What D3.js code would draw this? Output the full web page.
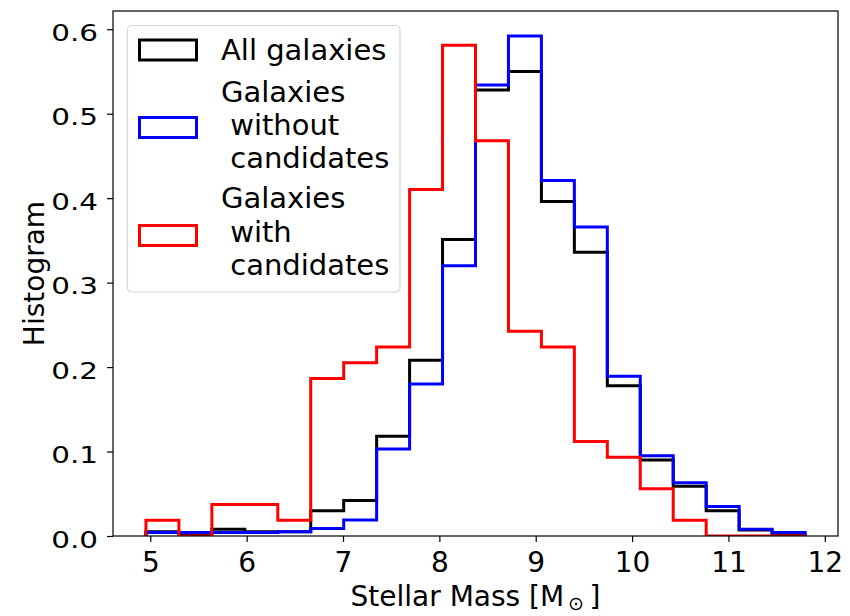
<!DOCTYPE html>
<html>
<head>
<meta charset="utf-8">
<script src="https://cdn.jsdelivr.net/npm/d3@7"></script>
<style>
  body { margin: 0; background: #fff; }
  svg { display: block; }
  text { font-family: "DejaVu Sans", sans-serif; fill: #000; }
</style>
</head>
<body>
<svg id="chart" width="850" height="616"></svg>
<script>
// Stellar mass histogram (density-normalised step histograms)
const massRange = [4.955, 11.795];   // first and last bin edge
const binCount = 20;

const allGalaxies = [0.005, 0.003, 0.008, 0.005, 0.005, 0.030, 0.042, 0.118, 0.208, 0.351,
                     0.528, 0.550, 0.396, 0.336, 0.178, 0.090, 0.059, 0.030, 0.007, 0.003];
const withoutCandidates = [0.004, 0.004, 0.004, 0.004, 0.005, 0.009, 0.019, 0.103, 0.180, 0.320,
                           0.534, 0.592, 0.421, 0.366, 0.189, 0.095, 0.063, 0.035, 0.008, 0.004];
const withCandidates = [0.0187, 0, 0.0373, 0.0373, 0.0187, 0.1865, 0.2052, 0.2238, 0.4104, 0.5810,
                        0.4680, 0.2425, 0.2238, 0.1119, 0.0933, 0.0560, 0.0187, 0, 0, 0];

const xTicks = [5, 6, 7, 8, 9, 10, 11, 12];
const yTicks = [0.0, 0.1, 0.2, 0.3, 0.4, 0.5, 0.6];

const seriesLabels = [["All galaxies"], ["Galaxies", " without", " candidates"], ["Galaxies", " with", " candidates"]];
const seriesColors = ["#000000", "#0000ff", "#ff0000"];
const seriesValues = [allGalaxies, withoutCandidates, withCandidates];

const plot = { left: 113, right: 838, top: 11, bottom: 536 };

const binWidth = (massRange[1] - massRange[0]) / binCount;
const edges = d3.range(binCount + 1).map(i => massRange[0] + i * binWidth);
const pad = 0.05 * (massRange[1] - massRange[0]);

const x = d3.scaleLinear().domain([massRange[0] - pad, massRange[1] + pad]).range([plot.left, plot.right]);
const yMax = d3.max(seriesValues.flat()) * 1.05;
const y = d3.scaleLinear().domain([0, yMax]).range([plot.bottom, plot.top]);

const svg = d3.select("#chart");

svg.append("defs").append("clipPath").attr("id", "plotClip")
  .append("rect")
  .attr("x", plot.left).attr("y", plot.top)
  .attr("width", plot.right - plot.left).attr("height", plot.bottom - plot.top);

// step outline: up the first edge, across each bin, down the last edge
function stepPoints(values) {
  const pts = [[edges[0], 0]];
  values.forEach((v, i) => { pts.push([edges[i], v]); pts.push([edges[i + 1], v]); });
  pts.push([edges[binCount], 0]);
  return pts;
}
const line = d3.line().x(d => x(d[0])).y(d => y(d[1]));

const marks = svg.append("g").attr("clip-path", "url(#plotClip)");
seriesValues.forEach((vals, i) => {
  marks.append("path")
    .attr("d", line(stepPoints(vals)))
    .attr("fill", "none")
    .attr("stroke", seriesColors[i])
    .attr("stroke-width", 3)
    .attr("stroke-linejoin", "miter");
});

// axes
const xAxis = svg.append("g")
  .attr("transform", `translate(0,${plot.bottom})`)
  .call(d3.axisBottom(x).tickValues(xTicks).tickFormat(d3.format("d")).tickSize(6).tickSizeOuter(0));
xAxis.select(".domain").remove();
xAxis.selectAll(".tick line").attr("stroke", "#000").attr("stroke-width", 1.2);
xAxis.selectAll(".tick text")
  .attr("y", 36).attr("dy", null)
  .style("font-size", "28px")
  .style("font-family", "'DejaVu Sans', sans-serif");

const yAxis = svg.append("g")
  .attr("transform", `translate(${plot.left},0)`)
  .call(d3.axisLeft(y).tickValues(yTicks).tickFormat(d3.format(".1f")).tickSize(6).tickSizeOuter(0));
yAxis.select(".domain").remove();
yAxis.selectAll(".tick line").attr("stroke", "#000").attr("stroke-width", 1.2);
yAxis.selectAll(".tick text")
  .attr("x", -15 / 1.28).attr("dy", null).attr("y", 11)
  .attr("transform", "scale(1.28,1)")
  .style("font-size", "23px")
  .style("font-family", "'DejaVu Sans', sans-serif");

// frame
svg.append("rect")
  .attr("x", plot.left).attr("y", plot.top)
  .attr("width", plot.right - plot.left).attr("height", plot.bottom - plot.top)
  .attr("fill", "none").attr("stroke", "#000").attr("stroke-width", 1.2);

// axis titles
const xTitle = svg.append("text")
  .attr("x", (plot.left + plot.right) / 2).attr("y", 606)
  .attr("text-anchor", "middle").style("font-size", "28px");
xTitle.append("tspan").text("Stellar Mass [M");
xTitle.append("tspan").attr("dy", 4).style("font-size", "19px").text("\u2009\u2299");
xTitle.append("tspan").attr("dy", -4).text("\u2009]");

svg.append("text")
  .attr("transform", `translate(44,${(plot.top + plot.bottom) / 2}) rotate(-90)`)
  .attr("text-anchor", "middle").style("font-size", "28px")
  .text("Histogram");

// legend
const legend = svg.append("g");
legend.append("rect")
  .attr("x", 127.5).attr("y", 25.5).attr("width", 272.5).attr("height", 266.5)
  .attr("rx", 4)
  .attr("fill", "#fff").attr("fill-opacity", 0.8)
  .attr("stroke", "#d6d6d6").attr("stroke-width", 1.2);

const lineGap = 33.3;
const firstBaselines = [60, 101.7, 208.3];
const patchCenters = [50, 127.5, 235.5];
seriesLabels.forEach((lines, i) => {
  legend.append("rect")
    .attr("x", 139.5).attr("y", patchCenters[i] - 10)
    .attr("width", 57).attr("height", 20)
    .attr("fill", "none").attr("stroke", seriesColors[i]).attr("stroke-width", 3);
  lines.forEach((t, j) => {
    legend.append("text")
      .attr("x", 221).attr("y", firstBaselines[i] + j * lineGap)
      .style("font-size", "29px").style("white-space", "pre")
      .text(t);
  });
});
</script>
</body>
</html>
